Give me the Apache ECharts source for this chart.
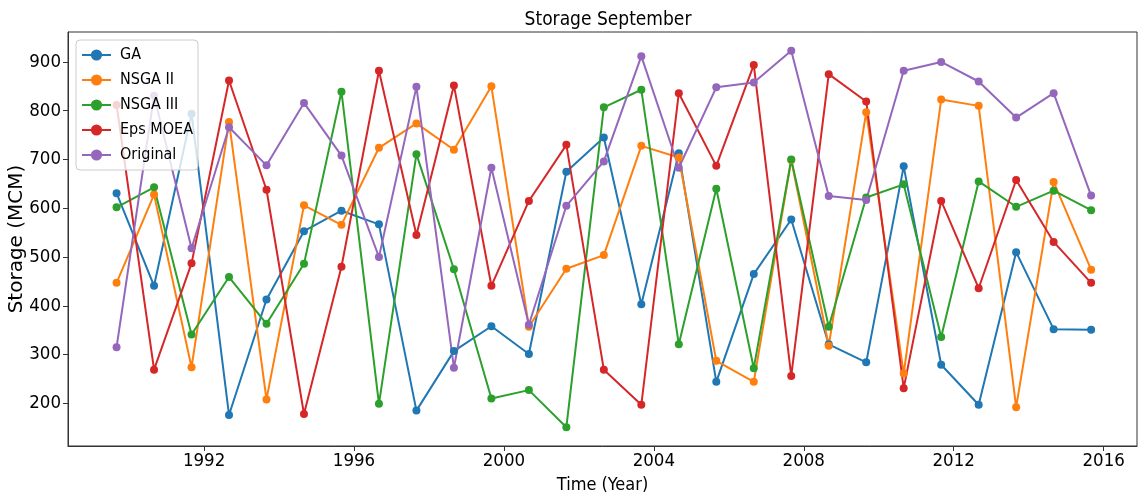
<!DOCTYPE html>
<html>
<head>
<meta charset="utf-8">
<script src="https://cdn.jsdelivr.net/npm/echarts@6/dist/echarts.min.js"></script>
<style>
html,body{margin:0;padding:0;background:#fff;}
#c{width:1138px;height:497px;}
</style>
</head>
<body>
<div id="c"></div>
<script>
// September of each year
const years = [1989,1990,1991,1992,1993,1994,1995,1996,1997,1998,1999,2000,2001,2002,2003,2004,2005,2006,2007,2008,2009,2010,2011,2012,2013,2014,2015];
const GA       = [631,441,794,176,413,553,595,567,185,307,358,301,675,745,403,713,244,465,577,321,284,686,279,197,510,352,351];
const NSGA2    = [447,628,274,777,208,606,566,724,774,720,850,357,476,504,728,704,287,244,699,318,797,261,823,810,192,654,474];
const NSGA3    = [602,643,341,459,363,486,839,199,711,475,210,227,151,807,843,321,640,272,700,357,622,649,336,655,603,636,596];
const EpsMOEA  = [812,269,487,862,638,178,480,882,545,852,441,615,730,269,197,836,687,894,256,875,819,231,615,436,658,531,447];
const Original = [315,831,518,766,688,816,708,500,849,273,683,361,605,696,912,683,848,858,923,625,617,882,900,860,786,836,626];
const xTicks = [1992,1996,2000,2004,2008,2012,2016];
const yTicks = [200,300,400,500,600,700,800,900];
const seriesNames = ['GA','NSGA II','NSGA III','Eps MOEA','Original'];
const colors = ['#1f77b4','#ff7f0e','#2ca02c','#d62728','#9467bd'];

const SEPT = 243/365; // Sept 1st as fraction of year
const pts = arr => arr.map((v,i)=>[years[i]+SEPT, v]);
const cond = '"DejaVu Sans Condensed","DejaVu Sans",sans-serif';

const chart = echarts.init(document.getElementById('c'));
chart.setOption({
  animation:false,
  backgroundColor:'#fff',
  title:{
    text:'Storage September', left:603, top:6, textAlign:'center',
    textStyle:{fontFamily:cond, fontSize:19, fontWeight:'normal', color:'#000'}
  },
  grid:{left:68, right:1, top:32, bottom:51, show:true, borderColor:'#333', borderWidth:1,
        containLabel:false, outerBoundsMode:'none'},
  legend:{
    left:76, top:40, orient:'vertical',
    padding:[7,5,7,5], itemGap:9, itemWidth:29, itemHeight:14,
    backgroundColor:'rgba(255,255,255,0.8)', borderColor:'#ccc', borderWidth:1, borderRadius:4,
    textStyle:{fontFamily:cond, fontSize:16, color:'#000', padding:[0,0,0,4]},
    data:seriesNames
  },
  xAxis:{
    type:'value', min:1988.37, max:2016.89,
    name:'Time (Year)', nameLocation:'middle', nameGap:30, nameMoveOverlap:false,
    nameTextStyle:{fontFamily:cond, fontSize:18, color:'#000'},
    axisLine:{show:true, lineStyle:{color:'#333'}},
    axisTick:{show:true, length:5, lineStyle:{color:'#333'}, customValues:xTicks},
    axisLabel:{fontFamily:cond, fontSize:18.5, color:'#000', margin:6, customValues:xTicks, formatter:v=>String(v)},
    splitLine:{show:false}
  },
  yAxis:{
    type:'value', min:112.4, max:961.5,
    name:'Storage (MCM)', nameLocation:'middle', nameGap:41, nameRotate:90, nameMoveOverlap:false,
    nameTextStyle:{fontFamily:'"DejaVu Sans",sans-serif', fontSize:20, color:'#000'},
    axisLine:{show:true, lineStyle:{color:'#333'}},
    axisTick:{show:true, length:5, lineStyle:{color:'#333'}, customValues:yTicks},
    axisLabel:{fontFamily:cond, fontSize:18.5, color:'#000', margin:7, customValues:yTicks},
    splitLine:{show:false}
  },
  series:[GA,NSGA2,NSGA3,EpsMOEA,Original].map((arr,i)=>({
    name:seriesNames[i], type:'line', data:pts(arr),
    symbol:'circle', symbolSize:8, showSymbol:true,
    lineStyle:{width:2, color:colors[i]},
    itemStyle:{color:colors[i]},
    emphasis:{disabled:true}
  }))
});
</script>
</body>
</html>
